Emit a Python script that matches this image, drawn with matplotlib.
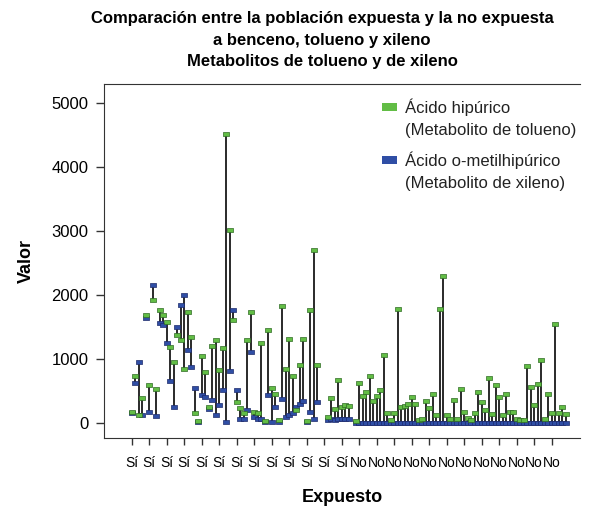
import numpy as np
import matplotlib
matplotlib.use("Agg")
import matplotlib.pyplot as plt
from matplotlib.patches import Rectangle

plt.rcParams["font.family"] = ["Liberation Sans", "DejaVu Sans"]

nan = np.nan

# Ácido hipúrico (green) and ácido o-metilhipúrico (blue), one value per subject
hip_expuestos = [180, 730, 130, 390, 1680, 590, 1920, 530, 1760, 1690,
                 1580, 1190, 960, 1380, 1300, 850, 1740, 1350, 150, 30,
                 1040, 800, 250, 1200, 1300, 830, 1170, 4520, 3010, 1610,
                 330, 230, 150, 1300, 1740, 180, 150, 1250, 30, 1460,
                 540, 450, 40, 1830, 840, 1320, 740, 200, 900, 1320,
                 30, 1770, 2700, 900, nan, nan, 100, 385, 220, 670,
                 250, 280, 260, nan]
omh_expuestos = [160, 620, 950, 120, 1640, 180, 2150, 110, 1570, 1530,
                 1250, 660, 250, 1500, 1840, 2000, 1140, 880, 540, 20,
                 440, 410, 220, 360, 125, 280, 520, 20, 810, 1770,
                 520, 70, 60, 200, 1110, 90, 60, 70, 20, 440,
                 20, 250, 20, 380, 100, 125, 150, 250, 300, 350,
                 20, 180, 70, 330, nan, nan, 40, 70, 50, 60,
                 60, 60, 60, nan]

hip_no_expuestos = [30, 620, 430, 490, 730, 340, 420, 520, 1060, 150,
                    50, 150, 1780, 250, 270, 300, 410, 300, 40, 60,
                    350, 230, 460, 130, 1780, 2300, 130, 60, 360, 60,
                    530, 180, 75, 50, 150, 490, 330, 210, 700, 140,
                    590, 410, 130, 450, 180, 180, 60, 50, 40, 890,
                    560, 280, 610, 980, 60, 460, 160, 1550, 160, 250,
                    140]
omh_no_expuestos = [0, 0, 0, 0, 0, 0, 0, 0, 0, 0,
                    0, 0, 0, 0, 0, 0, 0, 0, 0, 0,
                    0, 0, 0, 0, 0, 0, 0, 0, 0, 0,
                    0, 0, 0, 0, 0, 0, 0, 0, 0, 0,
                    0, 0, 0, 0, 0, 0, 0, 0, 0, 0,
                    0, 0, 0, 0, 0, 0, 0, 0, 0, 0,
                    0]

tick_labels = ["Sí"] * 13 + ["No"] * 12
tick_step = 5

legend_labels = ["Ácido hipúrico\n(Metabolito de tolueno)",
                 "Ácido o-metilhipúrico\n(Metabolito de xileno)"]

GREEN = "#62bd45"
BLUE = "#2f4ea5"

hip = np.array(hip_expuestos + hip_no_expuestos, dtype=float)
omh = np.array(omh_expuestos + omh_no_expuestos, dtype=float)
x = np.arange(len(hip))
ok = ~np.isnan(hip) & ~np.isnan(omh)

fig = plt.figure(figsize=(5.89, 5.07), dpi=100)
ax = fig.add_axes([104 / 589, 1 - 438 / 507, 476 / 589, 354 / 507])

ax.vlines(x[ok], np.minimum(hip, omh)[ok], np.maximum(hip, omh)[ok],
          color="#2a2a2a", linewidth=1.4, zorder=2)

cap = [(-1, -0.45), (1, -0.45), (1, 0.45), (-1, 0.45), (-1, -0.45)]
ax.plot(x, omh, linestyle="none", marker=cap, markersize=5,
        markerfacecolor=BLUE, markeredgecolor="#1d2a6b", markeredgewidth=0.5, zorder=3)
ax.plot(x, hip, linestyle="none", marker=cap, markersize=5,
        markerfacecolor=GREEN, markeredgecolor="#2f6b25", markeredgewidth=0.5, zorder=4)

ax.set_xlim(-7.9, 128.1)
ax.set_ylim(-234, 5297)
ax.set_yticks(range(0, 5001, 1000))
ax.set_xticks(range(0, tick_step * len(tick_labels), tick_step))
ax.set_xticklabels(tick_labels, fontsize=10)
ax.tick_params(axis="y", labelsize=12, length=6, width=1, color="#333333", pad=5)
ax.tick_params(axis="x", length=5, width=1, color="#333333", pad=8)
for side in ["left", "bottom", "top", "right"]:
    ax.spines[side].set_color("#333333")
ax.spines["right"].set_visible(False)

ax.set_ylabel("Valor", fontsize=13, fontweight="bold", labelpad=12)
ax.set_xlabel("Expuesto", fontsize=13, fontweight="bold", labelpad=14)

# legend drawn by hand so the swatch sits on the first line of each label
for (color, label, y_top) in zip([GREEN, BLUE], legend_labels, [0.958, 0.808]):
    ax.add_patch(Rectangle((0.584, y_top - 0.034), 0.0315, 0.0226, transform=ax.transAxes,
                           facecolor=color, edgecolor="none", clip_on=False))
    ax.text(0.632, y_top, label, transform=ax.transAxes, ha="left", va="top",
            fontsize=12, linespacing=1.55, color="#222222")

fig.text(0.547, 1 - 11 / 507,
         "Comparación entre la población expuesta y la no expuesta\n"
         "a benceno, tolueno y xileno\nMetabolitos de tolueno y de xileno",
         ha="center", va="top", fontsize=12, fontweight="bold", linespacing=1.55)

fig.savefig("out.png", dpi=100)
